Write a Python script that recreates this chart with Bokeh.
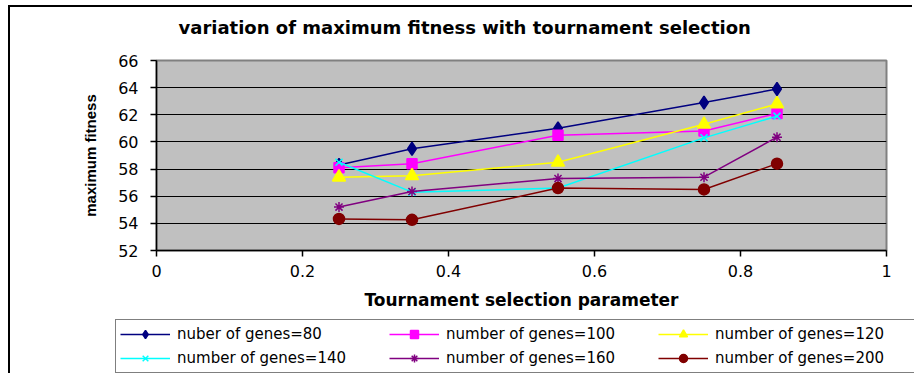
from bokeh.plotting import figure
from bokeh.models import (Legend, LegendItem, FixedTicker, NumeralTickFormatter,
                          Range1d)
from bokeh.embed import file_html
from bokeh.resources import INLINE

# ---- data ----
x_param = [0.25, 0.35, 0.55, 0.75, 0.85]
genes_80 = [58.3, 59.5, 61.0, 62.9, 63.9]
genes_100 = [58.1, 58.4, 60.5, 60.8, 62.1]
genes_120 = [57.4, 57.5, 58.5, 61.3, 62.8]
genes_140 = [58.5, 56.3, 56.6, 60.3, 61.9]
genes_160 = [55.2, 56.35, 57.3, 57.4, 60.35]
genes_200 = [54.33, 54.26, 56.6, 56.5, 58.4]
series_labels = ["nuber of genes=80", "number of genes=100", "number of genes=120",
                 "number of genes=140", "number of genes=160", "number of genes=200"]
x_ticks = [0, 0.2, 0.4, 0.6, 0.8, 1]
y_ticks = [52, 54, 56, 58, 60, 62, 64, 66]
title_text = "variation of maximum fitness with tournament selection"

series = [genes_80, genes_100, genes_120, genes_140, genes_160, genes_200]
colors = ["#000080", "#FF00FF", "#FFFF00", "#00FFFF", "#800080", "#800000"]
markers = ["diamond", "square", "triangle", "x", "asterisk", "circle"]
sizes = [13, 10, 13, 10, 10, 11]

# ---- main chart ----
p = figure(width=904, height=306, output_backend="svg", toolbar_location=None,
           x_range=Range1d(0, 1), y_range=Range1d(52, 66),
           min_border_left=146, min_border_right=28, min_border_top=53,
           min_border_bottom=63)
p.margin = (5, 0, 0, 8)
p.styles = {"border-left": "2px solid black", "border-top": "2px solid black"}

p.background_fill_color = "#C0C0C0"
p.border_fill_color = "white"
p.outline_line_color = "#808080"
p.outline_line_width = 2

# second (empty) line lifts the title line away from the plot area
p.title.text = title_text + "\n "
p.title.text_font = "DejaVu Sans"
p.title.text_font_size = "18px"
p.title.text_font_style = "bold"
p.title.text_color = "black"
p.title.align = "left"
p.title.offset = 22
p.title.standoff = 4

p.xgrid.grid_line_color = None
p.ygrid.grid_line_color = "#000000"
p.ygrid.grid_line_width = 1

p.xaxis.ticker = FixedTicker(ticks=x_ticks)
p.xaxis.formatter = NumeralTickFormatter(format="0.[0]")
p.yaxis.ticker = FixedTicker(ticks=y_ticks)
for ax in (p.xaxis, p.yaxis):
    ax.axis_line_color = "black"
    ax.axis_line_width = 1.5
    ax.major_tick_line_color = "black"
    ax.major_tick_line_width = 1.5
    ax.major_tick_in = 0
    ax.major_tick_out = 6
    ax.minor_tick_line_color = None
    ax.major_label_text_font = "DejaVu Sans"
    ax.major_label_text_font_size = "16px"
    ax.major_label_text_color = "black"
    ax.axis_label_text_font_style = "bold"
    ax.axis_label_text_color = "black"

p.xaxis.axis_label = "Tournament selection parameter"
p.xaxis.axis_label_text_font = "DejaVu Sans"
p.xaxis.axis_label_text_font_size = "17px"
p.xaxis.major_label_standoff = 8
p.xaxis.axis_label_standoff = 10

p.yaxis.axis_label = "maximum fitness"
p.yaxis.axis_label_text_font = "Liberation Sans"
p.yaxis.axis_label_text_font_size = "15px"
p.yaxis.major_label_standoff = 12
p.yaxis.axis_label_standoff = 16

for ys, c, m, s in zip(series, colors, markers, sizes):
    p.line(x_param, ys, line_color=c, line_width=1.5)
    p.scatter(x_param, ys, marker=m, size=s, fill_color=c, line_color=c,
              line_width=1.5)

# ---- legend strip (same series, ranges chosen so only the legend shows) ----
q = figure(width=904, height=62, output_backend="svg", toolbar_location=None,
           x_range=Range1d(10, 11), y_range=Range1d(0, 1),
           x_axis_location=None, y_axis_location=None,
           min_border_left=0, min_border_right=0, min_border_top=0,
           min_border_bottom=0)
q.margin = (0, 0, 0, 8)
q.styles = {"border-left": "2px solid black"}
q.grid.grid_line_color = None
q.outline_line_color = None
q.background_fill_color = "white"
q.border_fill_color = "white"

items = []
for ys, c, m, s, lab in zip(series, colors, markers, sizes, series_labels):
    lr = q.line(x_param, ys, line_color=c, line_width=1.5)
    sr = q.scatter(x_param, ys, marker=m, size=s, fill_color=c, line_color=c,
                   line_width=1.5)
    items.append(LegendItem(label=lab, renderers=[lr, sr]))

legend = Legend(items=items, orientation="horizontal", ncols=3,
                location=(105, 0), padding=4, spacing=4, margin=0,
                glyph_width=50, glyph_height=20, label_height=20,
                label_width=208, label_standoff=7,
                label_text_font="DejaVu Sans", label_text_font_size="15px",
                label_text_color="black",
                border_line_color="black", border_line_width=1.5,
                background_fill_color="white", background_fill_alpha=1)
q.add_layout(legend, "center")

open("out.html", "w").write(file_html([p, q], INLINE))
